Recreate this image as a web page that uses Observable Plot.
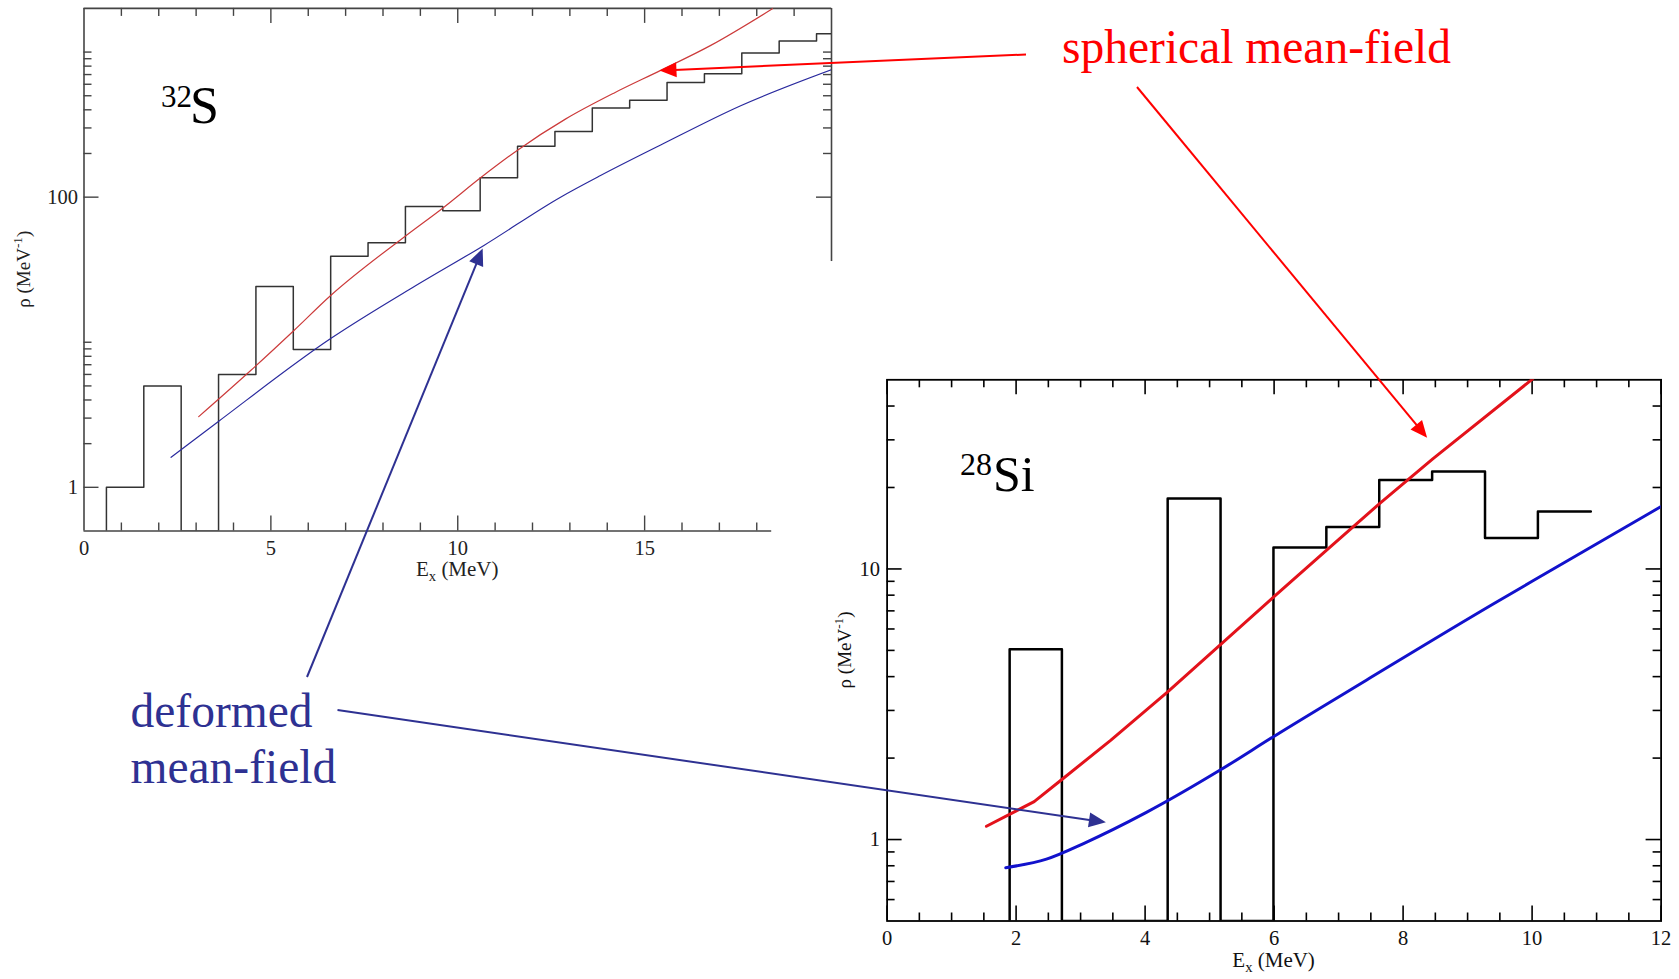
<!DOCTYPE html>
<html>
<head>
<meta charset="utf-8">
<script src="https://cdn.jsdelivr.net/npm/d3@7"></script>
<script src="https://cdn.jsdelivr.net/npm/@observablehq/plot@0.6"></script>
<style>
  html, body { margin: 0; padding: 0; background: #fff; }
  #wrap { position: relative; width: 1679px; height: 979px; overflow: hidden; background: #fff; }
</style>
</head>
<body>
<div id="wrap"></div>
<script>
// ---------------- 32S panel data ----------------
const s32Edges  = [0.6, 1.6, 2.6, 3.6, 4.6, 5.6, 6.6, 7.6, 8.6, 9.6, 10.6, 11.6, 12.6, 13.6, 14.6, 15.6, 16.6, 17.6, 18.6, 19.6];
const s32Counts = [1, 5.0, 0, 6.0, 24.2, 8.9, 39.2, 48.5, 86.3, 80.5, 136, 224, 284, 411, 466, 618, 709, 984, 1191, 1340];
const s32LastEdge = 20.6;
const s32SphX = [3.07, 4.46, 5.61, 6.60, 8.56, 9.63, 10.61, 11.59, 12.88, 14.2, 15.43, 16.77, 18.42];
const s32SphY = [3.07, 6.38, 12.0, 21.0, 53, 85.3, 136, 210, 345, 525, 748, 1112, 1990];
const s32DefX = [2.33, 3.57, 6.60, 8.87, 10.70, 12.75, 13.82, 15.43, 17.57, 20.0];
const s32DefY = [1.61, 2.81, 10.6, 24.5, 46.5, 100, 141, 229, 427, 756];
const s32XDomain = [0, 20];
const s32YDomain = [0.5, 2000];
const s32XLabels = [0, 5, 10, 15];
const s32YLabels = [1, 100];
const s32XMajor = [5, 10, 15];
const s32XMinorBottom = [1, 2, 3, 4, 6, 7, 8, 9, 11, 12, 13, 14, 16, 17, 18];
const s32XMinorTop = [1, 2, 3, 4, 6, 7, 8, 9, 11, 12, 13, 14, 16, 17, 18, 19];
const s32YMajor = [1, 100];
const s32YMinorLeft = [2, 3, 4, 5, 6, 7, 8, 9, 10, 200, 300, 400, 500, 600, 700, 800, 900, 1000];
const s32YMajorRight = [100];
const s32YMinorRight = [200, 300, 400, 500, 600, 700, 800, 900, 1000];
const s32BottomAxisEnd = 18.4;   // bottom axis visible up to this energy
const s32RightSpineEnd = 36;     // right spine visible from this density up

// ---------------- 28Si panel data ----------------
const si28Edges  = [1.9, 2.71, 3.53, 4.35, 5.17, 5.99, 6.81, 7.63, 8.45, 9.27, 10.09];
const si28Counts = [5.05, 0, 0, 18.2, 0, 12.0, 14.3, 21.3, 22.9, 13.0, 16.3];
const si28LastEdge = 10.91;
const si28SphX = [1.54, 2.28, 2.70, 3.47, 4.35, 5.99, 6.81, 7.63, 8.46, 10.01];
const si28SphY = [1.12, 1.38, 1.66, 2.33, 3.51, 7.87, 11.7, 17.4, 25.5, 50.4];
const si28DefX = [1.84, 2.47, 3.07, 4.02, 5.17, 5.99, 7.43, 9.41, 10.0, 12.0];
const si28DefY = [0.787, 0.847, 0.973, 1.26, 1.81, 2.40, 3.88, 7.45, 9.0, 17.0];
const si28XDomain = [0, 12];
const si28YDomain = [0.5, 50];
const si28XLabels = [0, 2, 4, 6, 8, 10, 12];
const si28YLabels = [1, 10];
const si28XMajor = [0, 2, 4, 6, 8, 10, 12];
const si28XMinor = [0.5, 1, 1.5, 2.5, 3, 3.5, 4.5, 5, 5.5, 6.5, 7, 7.5, 8.5, 9, 9.5, 10.5, 11, 11.5];
const si28YMajor = [1, 10];
const si28YMinor = [0.6, 0.7, 0.8, 0.9, 2, 3, 4, 5, 6, 7, 8, 9, 20, 30, 40];

// ---------------- annotations ----------------
const RED = "#ff0000", NAVY = "#2e3192";
const annotTexts = [
  {text: "spherical mean-field", x: 1062, y: 63.3, size: 47.5, color: RED},
  {text: "deformed", x: 130.5, y: 727.3, size: 47.5, color: NAVY},
  {text: "mean-field", x: 130.5, y: 783.3, size: 47.5, color: NAVY}
];
// arrows: tail in page pixels, tip in data coordinates of a panel
const annotArrows = [
  {color: RED,  from: [1026, 54.5], panel: "s32",  to: [15.41, 740]},
  {color: RED,  from: [1137, 87],   panel: "si28", to: [8.38, 30.4]},
  {color: NAVY, from: [307, 677],   panel: "s32",  to: [10.68, 44]},
  {color: NAVY, from: [337.5, 710], panel: "si28", to: [3.40, 1.153]}
];
// nucleus labels: superscript mass number + element
const nucleusLabels = [
  {sup: "32", main: "S",  x: 161, mainX: 190,  y: 123,   raise: 16, supSize: 31, mainSize: 52},
  {sup: "28", main: "Si", x: 960, mainX: 993,  y: 490.5, raise: 16, supSize: 32, mainSize: 50}
];

const FONT = '"Liberation Serif", "Times New Roman", serif';

function stepPoints(edges, counts, lastEdge, floor) {
  const pts = [{x: edges[0], y: floor}];
  edges.forEach((e, i) => pts.push({x: e, y: counts[i] > 0 ? counts[i] : floor}));
  const last = counts[counts.length - 1];
  pts.push({x: lastEdge, y: last > 0 ? last : floor});
  return pts;
}
function curvePoints(xs, ys) { return xs.map((x, i) => ({x, y: ys[i]})); }

function tickMarks(fw, fh, spec, stroke, sw) {
  const m = [];
  const L = 15, l = 8;
  if (spec.xBottomMajor) m.push(Plot.tickX(spec.xBottomMajor, {insetTop: fh - L, stroke, strokeWidth: sw}));
  if (spec.xBottomMinor) m.push(Plot.tickX(spec.xBottomMinor, {insetTop: fh - l, stroke, strokeWidth: sw}));
  if (spec.xTopMajor) m.push(Plot.tickX(spec.xTopMajor, {insetBottom: fh - L, stroke, strokeWidth: sw}));
  if (spec.xTopMinor) m.push(Plot.tickX(spec.xTopMinor, {insetBottom: fh - l, stroke, strokeWidth: sw}));
  if (spec.yLeftMajor) m.push(Plot.tickY(spec.yLeftMajor, {insetRight: fw - L, stroke, strokeWidth: sw}));
  if (spec.yLeftMinor) m.push(Plot.tickY(spec.yLeftMinor, {insetRight: fw - l, stroke, strokeWidth: sw}));
  if (spec.yRightMajor) m.push(Plot.tickY(spec.yRightMajor, {insetLeft: fw - L, stroke, strokeWidth: sw}));
  if (spec.yRightMinor) m.push(Plot.tickY(spec.yRightMinor, {insetLeft: fw - l, stroke, strokeWidth: sw}));
  return m;
}

const wrap = document.getElementById("wrap");

// ---------------- Panel 1: 32S ----------------
const P1 = {left: 0, top: 0, width: 851, height: 591, fl: 83.5, ft: 7.9, fr: 831, fb: 530.5};
const fw1 = P1.fr - P1.fl, fh1 = P1.fb - P1.ft;
const ax1 = "#444";
const p1 = Plot.plot({
  width: P1.width, height: P1.height,
  marginLeft: P1.fl - P1.left, marginTop: P1.ft - P1.top,
  marginRight: P1.left + P1.width - P1.fr, marginBottom: P1.top + P1.height - P1.fb,
  style: {background: "none", overflow: "visible", fontFamily: FONT, fontSize: "20.5px", color: "#222"},
  x: {domain: s32XDomain, ticks: s32XLabels, tickSize: 0, tickPadding: 9, tickFormat: d => String(d), label: null},
  y: {type: "log", domain: s32YDomain, ticks: s32YLabels, tickSize: 0, tickPadding: 6, tickFormat: d => String(d), label: null},
  marks: [
    Plot.ruleY([s32YDomain[1]], {stroke: ax1, strokeWidth: 1.6}),
    Plot.ruleX([s32XDomain[0]], {stroke: ax1, strokeWidth: 1.6}),
    Plot.ruleY([s32YDomain[0]], {x1: s32XDomain[0], x2: s32BottomAxisEnd, stroke: ax1, strokeWidth: 1.6}),
    Plot.ruleX([s32XDomain[1]], {y1: s32RightSpineEnd, y2: s32YDomain[1], stroke: ax1, strokeWidth: 1.6}),
    ...tickMarks(fw1, fh1, {
      xBottomMajor: s32XMajor, xBottomMinor: s32XMinorBottom,
      xTopMajor: s32XMajor, xTopMinor: s32XMinorTop,
      yLeftMajor: s32YMajor, yLeftMinor: s32YMinorLeft,
      yRightMajor: s32YMajorRight, yRightMinor: s32YMinorRight
    }, ax1, 1.4),
    Plot.line(stepPoints(s32Edges, s32Counts, s32LastEdge, s32YDomain[0]), {x: "x", y: "y", curve: "step-after", stroke: "#333", strokeWidth: 1.5, clip: true}),
    Plot.line(curvePoints(s32SphX, s32SphY), {x: "x", y: "y", curve: "monotone-x", stroke: "#cc3b3b", strokeWidth: 1.2, clip: true}),
    Plot.line(curvePoints(s32DefX, s32DefY), {x: "x", y: "y", curve: "monotone-x", stroke: "#2a2a9e", strokeWidth: 1.2, clip: true})
  ]
});
p1.style.position = "absolute"; p1.style.left = P1.left + "px"; p1.style.top = P1.top + "px";
wrap.appendChild(p1);

// ---------------- Panel 2: 28Si ----------------
const P2 = {left: 820, top: 360, width: 859, height: 619, fl: 886.6, ft: 379.3, fr: 1660.6, fb: 920.5};
const fw2 = P2.fr - P2.fl, fh2 = P2.fb - P2.ft;
const p2 = Plot.plot({
  width: P2.width, height: P2.height,
  marginLeft: P2.fl - P2.left, marginTop: P2.ft - P2.top,
  marginRight: P2.left + P2.width - P2.fr, marginBottom: P2.top + P2.height - P2.fb,
  style: {background: "none", overflow: "visible", fontFamily: FONT, fontSize: "20.5px", color: "#111"},
  x: {domain: si28XDomain, ticks: si28XLabels, tickSize: 0, tickPadding: 9, tickFormat: d => String(d), label: null},
  y: {type: "log", domain: si28YDomain, ticks: si28YLabels, tickSize: 0, tickPadding: 7, tickFormat: d => String(d), label: null},
  marks: [
    Plot.frame({stroke: "#000", strokeWidth: 1.8}),
    ...tickMarks(fw2, fh2, {
      xBottomMajor: si28XMajor, xBottomMinor: si28XMinor,
      xTopMajor: si28XMajor, xTopMinor: si28XMinor,
      yLeftMajor: si28YMajor, yLeftMinor: si28YMinor,
      yRightMajor: si28YMajor, yRightMinor: si28YMinor
    }, "#000", 1.6),
    Plot.line(stepPoints(si28Edges, si28Counts, si28LastEdge, si28YDomain[0]), {x: "x", y: "y", curve: "step-after", stroke: "#000", strokeWidth: 2.5, clip: true}),
    Plot.line(curvePoints(si28SphX, si28SphY), {x: "x", y: "y", stroke: "#e3121b", strokeWidth: 3, clip: true}),
    Plot.line(curvePoints(si28DefX, si28DefY), {x: "x", y: "y", curve: "monotone-x", stroke: "#1212cc", strokeWidth: 3, clip: true})
  ]
});
p2.style.position = "absolute"; p2.style.left = P2.left + "px"; p2.style.top = P2.top + "px";
wrap.appendChild(p2);

// ---------------- overlay: titles, axis names, annotations ----------------
const ov = d3.select(wrap).append("svg")
  .attr("width", 1679).attr("height", 979)
  .style("position", "absolute").style("left", "0px").style("top", "0px")
  .style("font-family", FONT);

function axisTitles(P, color, xSize, ySize, xBase, yCenterX) {
  const cx = (P.fl + P.fr) / 2, cy = (P.ft + P.fb) / 2;
  const tx = ov.append("text").attr("x", cx).attr("y", xBase).attr("text-anchor", "middle")
    .attr("font-size", xSize).attr("fill", color);
  tx.append("tspan").text("E");
  tx.append("tspan").attr("font-size", xSize * 0.7).attr("dy", 5).text("x");
  tx.append("tspan").attr("dy", -5).text(" (MeV)");
  const ty = ov.append("text").attr("transform", `translate(${yCenterX},${cy}) rotate(-90)`)
    .attr("text-anchor", "middle").attr("dy", "0.35em").attr("font-size", ySize).attr("fill", color);
  ty.append("tspan").text("ρ (MeV");
  ty.append("tspan").attr("font-size", ySize * 0.7).attr("dy", -8).text("-1");
  ty.append("tspan").attr("dy", 8).text(")");
}
axisTitles(P1, "#222", 21, 19, 576, 23);
axisTitles(P2, "#111", 21, 19, 967, 844);

nucleusLabels.forEach(n => {
  const t = ov.append("text").attr("y", n.y).attr("fill", "#000");
  t.append("tspan").attr("x", n.x).attr("dy", -n.raise).attr("font-size", n.supSize).text(n.sup);
  t.append("tspan").attr("x", n.mainX).attr("dy", n.raise).attr("font-size", n.mainSize).text(n.main);
});

annotTexts.forEach(a => {
  ov.append("text").attr("x", a.x).attr("y", a.y).attr("font-size", a.size).attr("fill", a.color).text(a.text);
});

const panels = {s32: {p: p1, P: P1}, si28: {p: p2, P: P2}};
annotArrows.forEach(a => {
  const {p, P} = panels[a.panel];
  const tipX = P.left + p.scale("x").apply(a.to[0]);
  const tipY = P.top + p.scale("y").apply(a.to[1]);
  const [x0, y0] = a.from;
  const dx = tipX - x0, dy = tipY - y0, len = Math.hypot(dx, dy);
  const ux = dx / len, uy = dy / len;
  const hl = 17, hw = 7.5;
  const bx = tipX - ux * hl, by = tipY - uy * hl;
  ov.append("line").attr("x1", x0).attr("y1", y0).attr("x2", bx + ux * 2).attr("y2", by + uy * 2)
    .attr("stroke", a.color).attr("stroke-width", 2);
  ov.append("polygon").attr("points", [
    [tipX, tipY], [bx - uy * hw, by + ux * hw], [bx + uy * hw, by - ux * hw]
  ].map(p => p.join(",")).join(" ")).attr("fill", a.color);
});
</script>
</body>
</html>
